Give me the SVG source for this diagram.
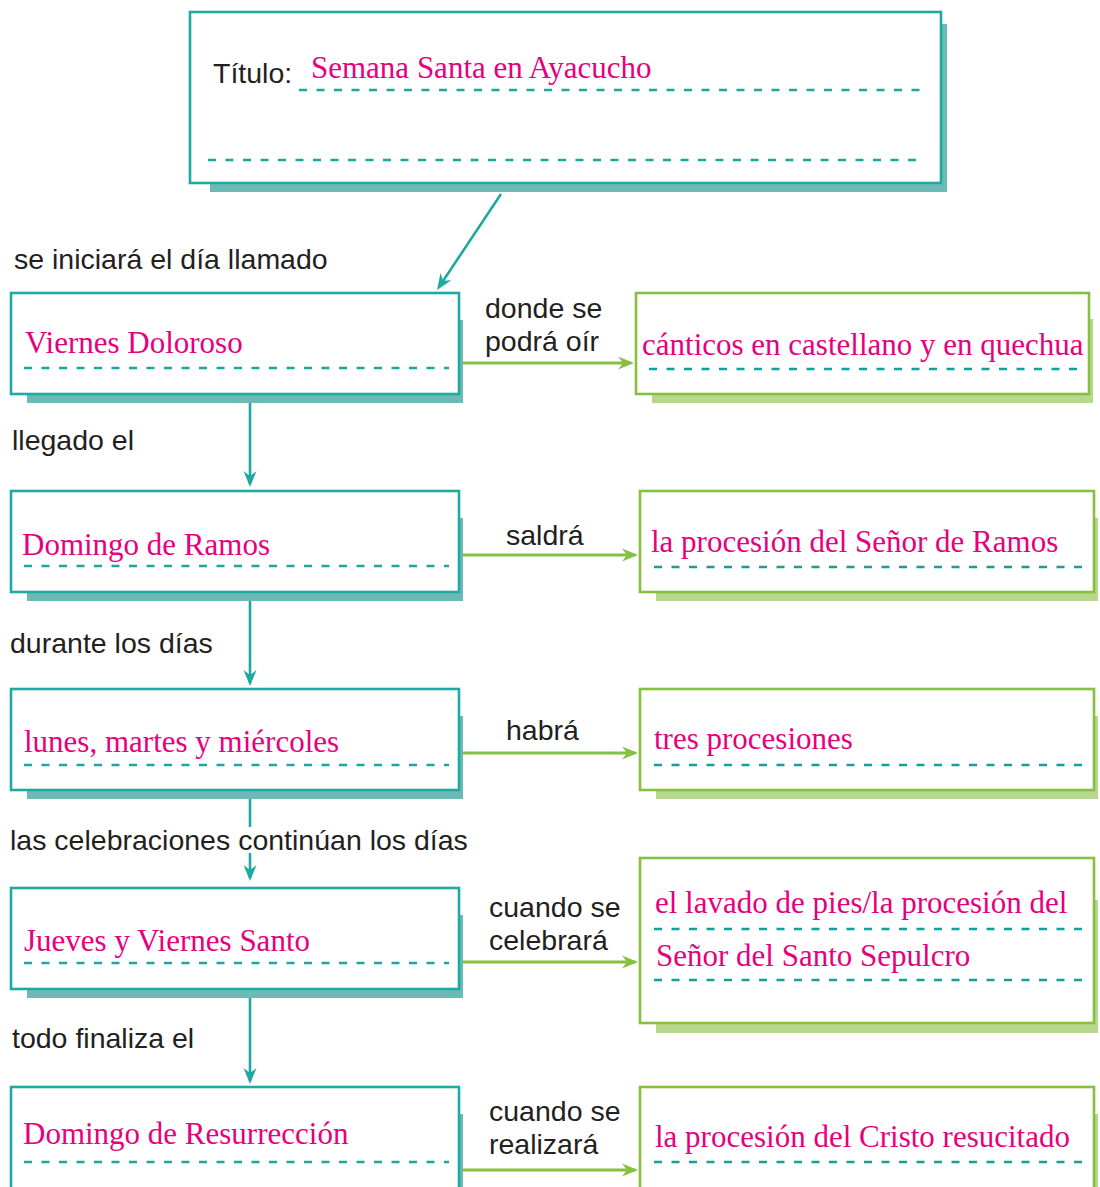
<svg xmlns="http://www.w3.org/2000/svg" width="1100" height="1187" viewBox="0 0 1100 1187">
<defs>
<style>
.bg{fill:#ffffff}
.tbox{fill:#ffffff;stroke:#1eaaa1;stroke-width:2.6}
.tsh{fill:#6db9b6}
.gbox{fill:#ffffff;stroke:#86c041;stroke-width:2.6}
.gsh{fill:#b5d88c}
.dash{stroke:#1aa79e;stroke-width:2.4;stroke-dasharray:8 9.5;fill:none}
.dash2{stroke:#12a097;stroke-width:2.4;stroke-dasharray:8 9.5;fill:none}
.val{font-family:"Liberation Serif","Times New Roman",serif;font-size:31px;fill:#e6007e}
.lbl{font-family:"Liberation Sans",Arial,sans-serif;font-size:28.5px;fill:#231f20}
.tc{stroke:#1eaaa1;stroke-width:2.6;fill:none}
.gc{stroke:#86c041;stroke-width:2.8;fill:none}
</style>
<marker id="ta" viewBox="-17 -7 18 14" refX="-3" refY="0" markerWidth="18" markerHeight="14" markerUnits="userSpaceOnUse" orient="auto">
<path d="M0,0 L-16,-6.5 L-11,0 L-16,6.5 Z" fill="#1eaaa1"/>
</marker>
<marker id="ga" viewBox="-17 -7 18 14" refX="-3" refY="0" markerWidth="18" markerHeight="14" markerUnits="userSpaceOnUse" orient="auto">
<path d="M0,0 L-16,-6.5 L-11,0 L-16,6.5 Z" fill="#86c041"/>
</marker>
</defs>
<rect class="bg" x="0" y="0" width="1100" height="1187"/>

<g id="connectors">
<line class="tc" x1="501" y1="194" x2="438.7" y2="287.5" marker-end="url(#ta)"/>
<line class="tc" x1="250" y1="394" x2="250" y2="484" marker-end="url(#ta)"/>
<line class="tc" x1="250" y1="592" x2="250" y2="683" marker-end="url(#ta)"/>
<line class="tc" x1="250" y1="790" x2="250" y2="827"/>
<line class="tc" x1="250" y1="853" x2="250" y2="878" marker-end="url(#ta)"/>
<line class="tc" x1="250" y1="989" x2="250" y2="1081" marker-end="url(#ta)"/>
<line class="gc" x1="459" y1="363" x2="631" y2="363" marker-end="url(#ga)"/>
<line class="gc" x1="459" y1="555" x2="635" y2="555" marker-end="url(#ga)"/>
<line class="gc" x1="459" y1="753" x2="635" y2="753" marker-end="url(#ga)"/>
<line class="gc" x1="459" y1="962" x2="635" y2="962" marker-end="url(#ga)"/>
<line class="gc" x1="459" y1="1170" x2="635" y2="1170" marker-end="url(#ga)"/>
<text class="lbl" x="14" y="269">se iniciará el día llamado</text>
<text class="lbl" x="12" y="450">llegado el</text>
<text class="lbl" x="10" y="653">durante los días</text>
<text class="lbl" x="10" y="850">las celebraciones continúan los días</text>
<text class="lbl" x="12" y="1048">todo finaliza el</text>
<text class="lbl" x="485" y="318">donde se</text>
<text class="lbl" x="485" y="351">podrá oír</text>
<text class="lbl" x="506" y="545">saldrá</text>
<text class="lbl" x="506" y="740">habrá</text>
<text class="lbl" x="489" y="917">cuando se</text>
<text class="lbl" x="489" y="950">celebrará</text>
<text class="lbl" x="489" y="1121">cuando se</text>
<text class="lbl" x="489" y="1154">realizará</text>
</g>

<g id="titulo">
<rect class="tsh" x="210" y="24" width="737" height="168"/>
<rect class="tbox" x="190" y="12" width="751" height="171"/>
<text class="lbl" x="213" y="83">Título:</text>
<text class="val" x="311" y="78">Semana Santa en Ayacucho</text>
<line class="dash" x1="299" y1="90" x2="922" y2="90"/>
<line class="dash" x1="208" y1="160" x2="922" y2="160"/>
</g>

<g id="viernes-doloroso">
<rect class="tsh" x="27" y="320" width="436" height="83"/>
<rect class="tbox" x="11" y="293" width="448" height="101"/>
<text class="val" x="25" y="353">Viernes Doloroso</text>
<line class="dash" x1="24" y1="368" x2="449" y2="368"/>
</g>

<g id="domingo-ramos">
<rect class="tsh" x="27" y="518" width="436" height="83"/>
<rect class="tbox" x="11" y="491" width="448" height="101"/>
<text class="val" x="22" y="555">Domingo de Ramos</text>
<line class="dash" x1="24" y1="566" x2="449" y2="566"/>
</g>

<g id="lunes-martes-miercoles">
<rect class="tsh" x="27" y="716" width="436" height="83"/>
<rect class="tbox" x="11" y="689" width="448" height="101"/>
<text class="val" x="24" y="752">lunes, martes y miércoles</text>
<line class="dash" x1="24" y1="765" x2="449" y2="765"/>
</g>

<g id="jueves-viernes-santo">
<rect class="tsh" x="27" y="915" width="436" height="83"/>
<rect class="tbox" x="11" y="888" width="448" height="101"/>
<text class="val" x="24" y="951">Jueves y Viernes Santo</text>
<line class="dash" x1="24" y1="963" x2="449" y2="963"/>
</g>

<g id="domingo-resurreccion">
<rect class="tsh" x="27" y="1114" width="436" height="90"/>
<rect class="tbox" x="11" y="1087" width="448" height="110"/>
<text class="val" x="23" y="1144">Domingo de Resurrección</text>
<line class="dash" x1="24" y1="1162" x2="449" y2="1162"/>
</g>

<g id="canticos">
<rect class="gsh" x="652" y="319" width="441" height="84"/>
<rect class="gbox" x="636" y="293" width="453" height="101"/>
<text class="val" x="642" y="355">cánticos en castellano y en quechua</text>
<line class="dash2" x1="649" y1="369" x2="1080" y2="369"/>
</g>

<g id="procesion-senor-ramos">
<rect class="gsh" x="656" y="518" width="442" height="83"/>
<rect class="gbox" x="640" y="491" width="454" height="101"/>
<text class="val" x="651" y="552">la procesión del Señor de Ramos</text>
<line class="dash2" x1="654" y1="567" x2="1084" y2="567"/>
</g>

<g id="tres-procesiones">
<rect class="gsh" x="656" y="716" width="442" height="83"/>
<rect class="gbox" x="640" y="689" width="454" height="101"/>
<text class="val" x="654" y="749">tres procesiones</text>
<line class="dash2" x1="654" y1="765" x2="1084" y2="765"/>
</g>

<g id="lavado-de-pies">
<rect class="gsh" x="656" y="900" width="442" height="133"/>
<rect class="gbox" x="640" y="858" width="454" height="165"/>
<text class="val" x="655" y="913">el lavado de pies/la procesión del</text>
<line class="dash2" x1="654" y1="929" x2="1084" y2="929"/>
<text class="val" x="656" y="966">Señor del Santo Sepulcro</text>
<line class="dash2" x1="654" y1="980" x2="1084" y2="980"/>
</g>

<g id="cristo-resucitado">
<rect class="gsh" x="656" y="1114" width="442" height="90"/>
<rect class="gbox" x="640" y="1087" width="454" height="110"/>
<text class="val" x="655" y="1147">la procesión del Cristo resucitado</text>
<line class="dash2" x1="654" y1="1162" x2="1084" y2="1162"/>
</g>
</svg>
